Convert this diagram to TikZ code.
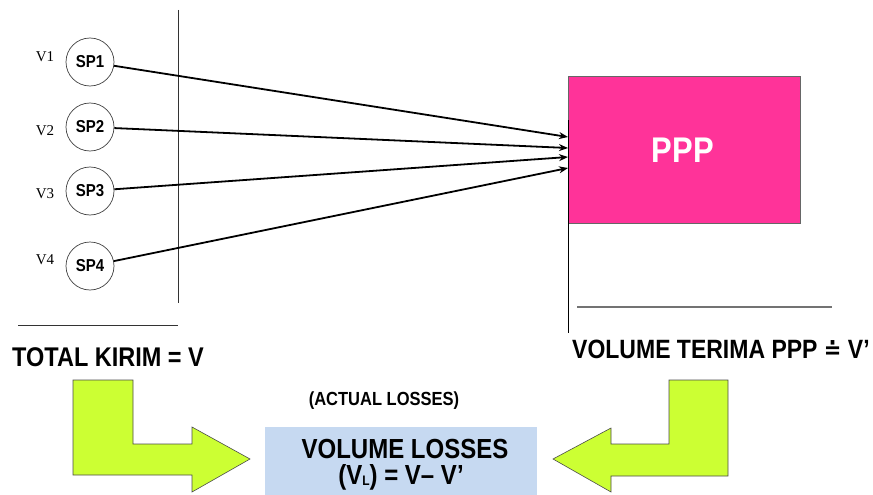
\documentclass[tikz,border=0pt]{standalone}
\usepackage{graphicx}
\usepackage{fontspec}
\setmainfont{Liberation Sans}
\newfontfamily\tms{Liberation Serif}
\newfontfamily\djv{DejaVu Sans}
\usetikzlibrary{arrows.meta}
\definecolor{pinkbox}{HTML}{FF3399}
\definecolor{bluebox}{HTML}{C6D9F1}
\definecolor{greenarr}{HTML}{CCFF33}
\newcommand{\tallt}[1]{\scalebox{1}[1.15]{#1}}
\begin{document}
\begin{tikzpicture}[x=1pt,y=-1pt,
  spnode/.style={circle,draw=black!75,line width=0.7pt,minimum size=48pt,inner sep=0pt,font=\fontsize{15}{15}\selectfont\bfseries},
  vlabel/.style={font=\tms\fontsize{15}{15}\selectfont,inner sep=0pt},
  flow/.style={line width=1.8pt,-{Stealth[length=9pt,width=7pt]}},
  bigtxt/.style={font=\fontsize{23.5}{23.5}\selectfont\bfseries,inner sep=0pt},
  greenshape/.style={fill=greenarr,draw=black!70,line width=0.6pt,line join=miter},
  rule/.style={line width=0.9pt}]
\useasboundingbox (0,0) rectangle (873,495);
% circles
\node[spnode] (sp1) at (90,62) {\tallt{SP1}};
\node[spnode] (sp2) at (90,127) {\tallt{SP2}};
\node[spnode] (sp3) at (90,191) {\tallt{SP3}};
\node[spnode] (sp4) at (90,266) {\tallt{SP4}};
\node[vlabel] (v1) at (45,57) {V1};
\node[vlabel] (v2) at (45,131) {V2};
\node[vlabel] (v3) at (45,194) {V3};
\node[vlabel] (v4) at (45,260) {V4};
% separators
\draw[rule,black!80] (178,10) -- (178,303);
\draw[rule,black!80] (18,325) -- (178,325);
% PPP box
\node[draw=black!60,fill=pinkbox,minimum width=232pt,minimum height=147pt,anchor=north west,inner sep=0pt,line width=0.6pt] (ppp) at (568,76) {};
\node[font=\fontsize{31}{31}\selectfont\bfseries,text=white] (ppptxt) at (683,150) {\tallt{PPP}};
\draw[rule,black] (568,120) -- (568,333);
\draw[line width=1.3pt,black!55] (577,307) -- (832,307);
% targets
\coordinate (t1) at (568,137);
\coordinate (t2) at (568,148);
\coordinate (t3) at (568,157);
\coordinate (t4) at (568,168);
\draw[flow] (sp1) -- (t1);
\draw[flow] (sp2) -- (t2);
\draw[flow] (sp3) -- (t3);
\draw[flow] (sp4) -- (t4);
% texts
\node[bigtxt,anchor=west] (total) at (12,357) {\tallt{TOTAL KIRIM = V}};
\node[font=\fontsize{23}{23}\selectfont\bfseries,inner sep=0pt,anchor=west] (terima) at (572,349) {\tallt{VOLUME TERIMA PPP {\djv\fontsize{21}{21}\selectfont ≐} V’}};
\node[font=\fontsize{16.5}{16.5}\selectfont\bfseries,inner sep=0pt] (actual) at (384,401) {\tallt{(ACTUAL LOSSES)}};
% losses box
\fill[bluebox] (265,427) rectangle (537,495);
\node[font=\fontsize{24}{24}\selectfont\bfseries,inner sep=0pt] (loss1) at (405,449) {\tallt{VOLUME LOSSES}};
\node[font=\fontsize{24}{24}\selectfont\bfseries,inner sep=0pt] (loss2) at (401,477) {\tallt{(V{\fontsize{12}{12}\selectfont\raisebox{-1pt}{L}}) = V– V’}};
% green arrows
\draw[greenshape] (73,380) -- (133,380) -- (133,444) -- (192,444) -- (192,427) -- (250,459) -- (192,492) -- (192,475) -- (73,475) -- cycle;
\draw[greenshape] (669,380) -- (728,380) -- (728,476) -- (611,476) -- (611,492) -- (553,459) -- (611,428) -- (611,444) -- (669,444) -- cycle;
\end{tikzpicture}
\end{document}
